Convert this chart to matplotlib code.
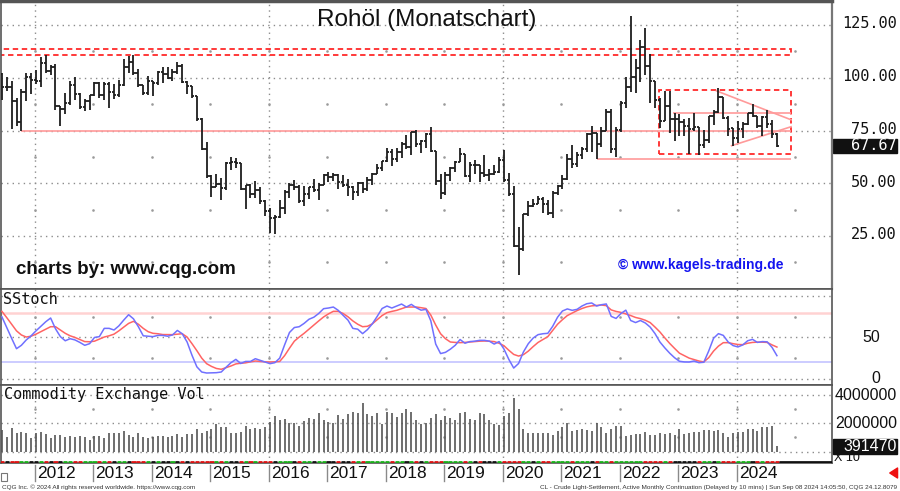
import numpy as np
import pandas as pd
import matplotlib
matplotlib.use('Agg')
import matplotlib.pyplot as plt
from matplotlib.transforms import blended_transform_factory
from matplotlib.patches import Rectangle, FancyArrowPatch
from matplotlib.lines import Line2D

# ---------------- data (monthly bars, Jun 2011 .. Sep 2024) ----------------
months = pd.period_range('2011-06', '2024-09', freq='M')

price_open = [
    102.0, 95.4, 95.7, 88.8, 79.2, 93.2, 100.4,
    98.8, 98.5, 107.1, 103.0, 104.9, 86.5, 85.0, 88.1, 96.5, 92.2, 86.2, 88.9,
    91.8, 97.5, 92.0, 97.2, 93.5, 92.0, 96.6, 105.0, 107.6, 102.3, 96.4, 92.7,
    98.4, 97.5, 102.6, 101.6, 99.7, 102.7, 105.4, 98.2, 96.0, 91.2, 80.5, 66.2,
    53.3, 48.2, 49.8, 47.6, 59.6, 60.3, 59.5, 47.1, 49.2, 45.1, 46.6, 41.7,
    37.0, 33.6, 33.8, 38.3, 45.9, 49.1, 48.3, 41.6, 44.7, 48.2, 46.9, 49.4,
    53.7, 52.8, 54.0, 50.6, 49.3, 48.3, 46.0, 50.2, 47.2, 51.7, 54.4, 57.4,
    60.4, 64.7, 61.6, 64.9, 68.6, 67.0, 74.2, 68.8, 69.8, 73.3, 65.3, 50.9,
    45.4, 53.8, 57.2, 60.1, 63.9, 53.5, 58.5, 58.6, 55.1, 54.1, 54.2, 55.2,
    61.1, 51.6, 44.8, 20.5, 18.8, 35.5, 39.3, 40.3, 42.6, 40.2, 35.8, 45.3,
    48.5, 52.2, 61.5, 59.2, 63.6, 66.3, 73.5, 73.95, 68.5, 75.0, 83.6, 66.2,
    75.2, 88.2, 95.7, 100.3, 104.7, 114.7, 105.8, 98.6, 89.6, 79.5, 86.5, 80.6,
    80.3, 78.9, 77.05, 75.7, 76.8, 68.1, 70.6, 81.8, 83.6, 90.8, 81.0, 76.0,
    71.65, 75.85, 78.3, 83.2, 81.9, 77.0, 81.5, 77.9, 73.55]
price_high = [
    102.4, 100.6, 98.4, 90.5, 94.6, 102.4, 102.4,
    103.7, 110.0, 110.6, 106.0, 106.4, 86.5, 92.9, 98.3, 100.4, 93.0, 89.9, 91.9,
    98.2, 98.2, 97.8, 97.8, 97.1, 99.0, 108.9, 110.4, 110.7, 104.4, 96.4, 100.8,
    98.6, 103.4, 105.2, 104.99, 104.2, 107.7, 106.4, 98.7, 96.1, 91.5, 80.9, 69.4,
    53.7, 54.2, 52.5, 59.9, 62.6, 61.9, 59.7, 49.3, 49.5, 50.9, 48.4, 42.0,
    38.4, 34.8, 41.9, 46.8, 50.2, 51.7, 49.0, 48.75, 48.3, 51.9, 49.9, 54.5,
    55.2, 54.9, 54.6, 53.8, 52.0, 48.6, 50.4, 50.4, 52.9, 54.9, 59.1, 60.5,
    66.7, 66.3, 66.6, 69.6, 72.9, 74.5, 75.3, 70.4, 73.9, 76.9, 65.4, 54.55,
    55.4, 57.8, 60.7, 66.6, 63.9, 59.9, 60.9, 58.8, 63.4, 57.0, 58.7, 62.3,
    65.65, 54.7, 48.7, 29.1, 35.6, 41.6, 42.5, 43.8, 43.4, 41.9, 46.3, 49.4,
    53.9, 63.8, 67.98, 64.8, 67.0, 74.0, 76.98, 74.0, 76.7, 85.4, 84.97, 76.9,
    88.8, 100.5, 129.4, 109.0, 118.0, 123.7, 111.1, 98.7, 90.4, 93.6, 93.7, 83.3,
    82.7, 80.6, 80.9, 83.5, 76.9, 75.1, 82.0, 84.9, 95.0, 90.9, 82.0, 76.2,
    79.3, 79.1, 83.3, 87.7, 81.9, 82.0, 84.5, 80.1, 74.0]
price_low = [
    89.6, 93.6, 75.7, 77.1, 74.95, 89.2, 92.5,
    97.2, 95.4, 102.1, 101.1, 84.6, 77.3, 83.0, 87.0, 89.6, 85.2, 84.1, 84.7,
    91.6, 90.6, 89.3, 85.6, 89.9, 91.1, 95.9, 102.2, 101.3, 95.7, 91.8, 91.7,
    91.2, 96.4, 97.4, 99.2, 98.5, 101.8, 97.6, 92.5, 90.4, 79.4, 65.7, 52.4,
    43.6, 48.0, 42.0, 47.0, 56.5, 57.3, 46.7, 37.75, 43.2, 43.2, 40.0, 34.5,
    26.2, 26.1, 33.4, 35.2, 43.0, 46.7, 40.6, 39.2, 42.5, 46.0, 42.2, 49.4,
    50.7, 51.2, 47.1, 48.2, 43.8, 42.05, 44.0, 45.6, 46.5, 49.1, 54.2, 55.8,
    59.9, 58.1, 60.0, 62.0, 66.4, 63.6, 67.0, 64.4, 66.8, 64.9, 49.4, 42.4,
    44.35, 51.2, 55.3, 60.0, 53.0, 50.6, 54.6, 50.5, 52.8, 51.0, 54.0, 55.1,
    50.6, 44.0, 20.0, 6.5, 18.0, 34.4, 38.7, 40.0, 36.1, 34.9, 33.6, 44.3,
    47.2, 51.6, 57.3, 57.6, 61.6, 64.6, 65.0, 61.7, 67.3, 74.96, 64.4, 62.4,
    74.3, 85.7, 93.5, 92.9, 97.9, 101.5, 88.2, 85.7, 76.3, 79.3, 73.6, 70.1,
    72.5, 72.3, 64.1, 74.9, 63.6, 66.8, 69.0, 77.6, 83.5, 80.6, 72.2, 67.7,
    69.3, 71.4, 77.5, 81.25, 76.0, 72.5, 76.3, 71.5, 67.2]
price_close = [
    95.4, 95.7, 88.8, 79.2, 93.2, 100.4, 98.8,
    98.5, 107.1, 103.0, 104.9, 86.5, 85.0, 88.1, 96.5, 92.2, 86.2, 88.9, 91.8,
    97.5, 92.0, 97.2, 93.5, 92.0, 96.6, 105.0, 107.6, 102.3, 96.4, 92.7, 98.4,
    97.5, 102.6, 101.6, 99.7, 102.7, 105.4, 98.2, 96.0, 91.2, 80.5, 66.2, 53.3,
    48.2, 49.8, 47.6, 59.6, 60.3, 59.5, 47.1, 49.2, 45.1, 46.6, 41.7, 37.0,
    33.6, 33.8, 38.3, 45.9, 49.1, 48.3, 41.6, 44.7, 48.2, 46.9, 49.4, 53.7,
    52.8, 54.0, 50.6, 49.3, 48.3, 46.0, 50.2, 47.2, 51.7, 54.4, 57.4, 60.4,
    64.7, 61.6, 64.9, 68.6, 67.0, 74.2, 68.8, 69.8, 73.3, 65.3, 50.9, 45.4,
    53.8, 57.2, 60.1, 63.9, 53.5, 58.5, 58.6, 55.1, 54.1, 54.2, 55.2, 61.1,
    51.6, 44.8, 20.5, 18.8, 35.5, 39.3, 40.3, 42.6, 40.2, 35.8, 45.3, 48.5,
    52.2, 61.5, 59.2, 63.6, 66.3, 73.5, 73.95, 68.5, 75.0, 83.6, 66.2, 75.2,
    88.2, 95.7, 100.3, 104.7, 114.7, 105.8, 98.6, 89.6, 79.5, 86.5, 80.6, 80.3,
    78.9, 77.05, 75.7, 76.8, 68.1, 70.6, 81.8, 83.6, 90.8, 81.0, 75.96, 71.65,
    75.85, 78.3, 83.2, 81.9, 77.0, 81.5, 77.9, 73.55, 67.67]

stoch_k = [
    75, 62, 49, 36.4, 40.5, 47, 52, 58, 63.5, 69, 73.5, 60.5, 51, 46, 48.5,
    47, 44, 40.5, 42.5, 50, 51, 61, 61, 59, 64, 71, 77.5, 72.5, 63, 52, 51.5,
    51, 52.5, 52.5, 51.5, 53, 58.5, 54.5, 44.5, 28.5, 14.5, 8.2, 7, 7.2, 7.4,
    8.2, 14, 19.5, 23.5, 18.5, 21, 21, 24.3, 22.3, 20.3, 18.3, 19.5, 25,
    41, 56, 62, 63, 67, 72, 74.5, 79, 84.8, 85.6, 86.8, 82.8, 76.8, 71, 61,
    60, 54.6, 59.5, 66.5, 75.5, 85, 88, 85.6, 88, 90.4, 86.8, 90, 86, 83, 84,
    70, 42, 30.5, 32, 35.8, 40.5, 47.5, 43, 45, 45.5, 46.5, 46.5, 45.5, 42,
    45, 36, 23.5, 13, 18.5, 32.5, 42.5, 49.3, 53.4, 54.5, 55,
    63.5, 74.5, 82, 84.5, 82.8, 84, 88, 90.8, 91.7, 88, 89.6, 90.5, 75.5, 73,
    79, 83, 70.5, 68, 70.5, 67.5, 62.5, 54.6, 44.5, 37.4, 31, 25.5, 21.2,
    20.4, 20.3, 21.5, 19.5, 20, 33.5, 49, 54.6, 52.5, 44.5, 40.2, 38.5, 41,
    46, 47.7, 44, 45, 44.7, 38, 28]
stoch_d = [
    81.6, 74, 66, 58, 53, 50.5, 51.5, 54, 57, 60, 63, 63, 59, 55, 52, 50,
    47.5, 45, 44.8, 45.5, 48, 50.5, 52, 54, 58, 62.5, 67, 69.5, 66, 61, 57,
    55, 54.5, 53.5, 53.4, 53.4, 54, 54.5, 50.5, 42.5, 34, 25, 18.3, 15, 12.5,
    11.5, 13.5, 15.5, 18, 18.8, 19.3, 20.5, 21.5, 21, 20.5, 20.3, 20.5, 21,
    28, 37, 45.5, 50.5, 55, 60, 65, 70, 74.8, 78.5, 81.6, 81.6, 79, 75, 70,
    66, 63, 63.5, 66.5, 71.5, 76.5, 80, 81.5, 82.8, 84.8, 86.8, 86.8, 86.8,
    86, 85, 77, 65, 54.5, 48.5, 44.5, 44, 43.7, 44, 44.5, 45, 45.5, 45.7,
    45.5, 45, 43, 40, 34.5, 29.5, 27.5, 29.2, 33.5, 39, 44, 47.5, 51,
    58.5, 66, 71.5, 76.5, 79.5, 82.5, 85, 87, 88.2, 88.7, 89.2, 88.5, 83.3,
    81.5, 80.3, 78.5, 76.5, 74.2, 72.8, 70.8, 68, 62.5, 56.6, 49.5, 42.8,
    36.8, 31, 28, 25, 23.2, 21.5, 20.4, 25.5, 33.5, 39.5, 43.7, 43.7, 42.5,
    41.5, 41.3, 43, 44, 44.3, 44.3, 44, 41, 38.4]

# contracts, in millions
volume_mio = [
    1.53, 1.06, 1.64, 1.34, 1.41, 1.29, 0.94, 1.29, 1.41, 1.24, 0.94, 1.17,
    1.17, 1.06, 1.10, 1.01, 1.10, 1.06, 0.82, 1.10, 1.10, 0.98, 1.29, 1.29,
    1.29, 1.46, 1.17, 1.01, 1.34, 1.01, 0.94, 1.01, 1.10, 1.10, 1.01, 1.10,
    1.22, 1.01, 1.24, 1.24, 1.57, 1.34, 1.48, 1.57, 1.93, 1.72, 1.72, 1.29,
    1.34, 1.41, 1.83, 1.57, 1.64, 1.57, 1.76, 2.12, 2.52, 2.23, 2.28, 2.04,
    2.00, 1.81, 2.19, 2.35, 2.28, 2.70, 2.23, 2.12, 2.00, 2.59, 2.28, 2.66,
    2.78, 2.70, 3.41, 2.66, 2.52, 2.70, 1.95, 2.82, 2.70, 2.42, 2.70, 2.99,
    2.78, 2.23, 1.95, 2.04, 2.40, 2.66, 2.23, 2.52, 2.40,
    2.23, 2.70, 2.78, 2.28, 2.23, 2.70, 2.63, 2.23, 1.93, 1.88, 2.52, 2.70,
    3.76, 2.99, 1.57, 1.34, 1.29, 1.34, 1.34, 1.29, 1.17, 1.48, 1.76, 2.04,
    1.48, 1.53, 1.57, 1.53, 1.48, 2.00, 1.76, 1.34, 1.57, 1.81, 1.81, 1.10,
    1.17, 1.24, 1.24, 1.41, 1.17, 1.17, 1.29, 1.24, 1.34, 1.17, 1.57, 1.22,
    1.34, 1.41, 1.36, 1.53, 1.53, 1.48, 1.53, 1.29, 1.06, 1.34, 1.36, 1.36,
    1.60, 1.57, 1.48, 1.76, 1.76, 1.81, 0.39147]

years = list(range(2012, 2025))
price_levels = [25, 50, 75, 100, 125]

# drawn chart annotations (month index, price)
band_top, band_bottom = 113.6, 110.8
support_hi, support_lo = 74.95, 61.7
box_left, box_right, box_low, box_high = 134.8, 161.9, 64.0, 94.3
box_mid = 83.1
tri_upper = ([146.6, 161.9], [93.8, 80.1])
tri_lower = ([149.7, 161.9], [67.8, 76.8])

for arr in (price_open, price_high, price_low, price_close,
            stoch_k, stoch_d, volume_mio):
    assert len(arr) == len(months), len(arr)

# ---------------- figure ----------------
plt.rcParams['font.family'] = ['Liberation Sans', 'DejaVu Sans']
W, H = 900, 491
fig = plt.figure(figsize=(W / 100, H / 100), dpi=100)
fig.patch.set_facecolor('white')


def fx(px):
    return px / W


def fy(px):
    return 1 - px / H


def panel(top, bottom):
    ax = fig.add_axes([fx(1), fy(bottom), fx(831), (bottom - top) / H])
    ax.set_xlim(-0.18, 170.3)
    ax.set_xticks([])
    ax.set_yticks([])
    for s in ax.spines.values():
        s.set_color('#555555')
        s.set_linewidth(1.2)
    return ax


ax_p = panel(1, 289)
ax_s = panel(289, 385)
ax_v = panel(385, 463)
ax_p.set_ylim(-0.12, 136.4)
ax_s.set_ylim(-7.5, 108.6)
ax_v.set_ylim(-0.806, 4.707)
ax_p.spines['top'].set_linewidth(2.5)
ax_p.spines['right'].set_color('#777777')
ax_p.spines['right'].set_linewidth(1.6)

x = np.arange(len(months))
year_x = [(y - 2011) * 12 - 5 - 0.25 for y in years]
dot_x = year_x + [year_x[-1] + 12]
grid_kw = dict(color='#8c8c8c', lw=1.0, ls=(0, (1, 3)), zorder=1)
dot_kw = dict(ls='none', marker='s', ms=0.8, color='#9a9a9a', zorder=1)

# grid
for lv in price_levels:
    ax_p.axhline(lv, **grid_kw)
for lv in (0, 50, 100):
    ax_s.axhline(lv, **grid_kw)
for lv in (0, 2, 4):
    ax_v.axhline(lv, **grid_kw)
for ax in (ax_p, ax_s, ax_v):
    for xv in year_x[::4]:
        ax.axvline(xv, **grid_kw)
for xv in dot_x:
    ax_p.plot([xv] * 5, [12.5, 37.5, 62.5, 87.5, 112.5], **dot_kw)
    ax_s.plot([xv] * 2, [25, 75], **dot_kw)
    ax_v.plot([xv] * 2, [1, 3], **dot_kw)

# price bars
bar_c = '#1e1e1e'
ax_p.vlines(x, price_low, price_high, color=bar_c, lw=1.3, zorder=3)
ax_p.hlines(price_open, x - 0.45, x, color=bar_c, lw=1.3, zorder=3)
ax_p.hlines(price_close, x, x + 0.45, color=bar_c, lw=1.3, zorder=3)

# annotations
red = '#ff2a2a'
pink = '#ff9a9a'
ax_p.add_patch(Rectangle((-0.5, band_bottom), box_right + 0.5,
                         band_top - band_bottom, fill=False, ec=red,
                         lw=1.3, ls=(0, (3, 2)), zorder=2))
ax_p.add_patch(Rectangle((box_left, box_low), box_right - box_left,
                         box_high - box_low, fill=False, ec=red,
                         lw=1.3, ls=(0, (3, 2)), zorder=2))
ax_p.hlines(support_hi, 4, box_right, color=pink, lw=1.2, zorder=2)
ax_p.hlines(support_lo, 122, box_right, color=pink, lw=1.2, zorder=2)
ax_p.hlines(box_mid, 137.6, box_right, color=pink, lw=1.2, zorder=2)
ax_p.plot(*tri_upper, color=pink, lw=1.2, zorder=2)
ax_p.plot(*tri_lower, color=pink, lw=1.2, zorder=2)

# stochastic
ax_s.axhline(80, color='#ffd2d2', lw=1.8, zorder=1)
ax_s.axhline(20, color='#c4c4ff', lw=1.2, zorder=1)
ax_s.plot(x, stoch_d, color='#ff6464', lw=1.1, zorder=3)
ax_s.plot(x, stoch_k, color='#7070ff', lw=1.1, zorder=3)

# volume
ax_v.vlines(x, 0, volume_mio, color='#555555', lw=1.2, zorder=3)
strip_c = []
for o, c in zip(price_open, price_close):
    strip_c.append('#18b018' if c > o * 1.03 else
                   '#dd1111' if c < o * 0.97 else '#111111')
ax_v.hlines([-0.72] * len(x), x - 0.42, x + 0.42, colors=strip_c, lw=2.0,
            zorder=4)
ax_v.hlines(-0.72, x[-1] + 0.5, 170.3, color='#111111', lw=2.0, zorder=4)

# ---------------- texts ----------------
mono = 'DejaVu Sans Mono'
bp = blended_transform_factory(fig.transFigure, ax_p.transData)
bs = blended_transform_factory(fig.transFigure, ax_s.transData)
bv = blended_transform_factory(fig.transFigure, ax_v.transData)

for lv in price_levels:
    ax_p.text(fx(897), lv + 0.6, f'{lv:.2f}', transform=bp, ha='right',
              va='center', family=mono, fontsize=11, color='#111111')
ax_p.add_patch(Rectangle((fx(833), price_close[-1] - 3.4), fx(64), 6.8,
                         transform=bp, color='#111111', clip_on=False))
ax_p.text(fx(897), price_close[-1], f'{price_close[-1]:.2f}', transform=bp,
          ha='right', va='center', family=mono, fontsize=11, color='white')

for lv in (50, 0):
    ax_s.text(fx(880), lv, str(lv), transform=bs, ha='right', va='center',
              fontsize=11.5, color='#111111')

for lv in (4, 2):
    ax_v.text(fx(897), lv, f'{int(lv * 1e6)}', transform=bv, ha='right',
              va='center', fontsize=11.5, color='#111111')
ax_v.text(fx(834), volume_mio[-1] - 0.86, 'X 10', transform=bv, ha='left',
          va='center', fontsize=9, color='#111111')
ax_v.add_patch(Rectangle((fx(833), volume_mio[-1] - 0.53), fx(64), 1.06,
                         transform=bv, color='#111111', clip_on=False,
                         zorder=5))
ax_v.text(fx(897), volume_mio[-1], f'{int(round(volume_mio[-1] * 1e6))}',
          transform=bv, ha='right', va='center', fontsize=11.5,
          color='white', zorder=6)

fig.text(fx(427), fy(20), 'Rohöl (Monatschart)', ha='center', va='center',
         fontsize=17.5, color='#111111')
fig.text(fx(16), fy(270), 'charts by: www.cqg.com', ha='left', va='center',
         fontsize=13.5, fontweight='bold', color='#111111')
fig.text(fx(618), fy(265), '© www.kagels-trading.de', ha='left',
         va='center', fontsize=10, fontweight='bold', color='#1414f0')
fig.text(fx(3), fy(299), 'SStoch', ha='left', va='center', family=mono,
         fontsize=11, color='#111111')
fig.text(fx(4), fy(395), 'Commodity Exchange Vol', ha='left', va='center',
         family=mono, fontsize=11, color='#111111')

# time axis strip
bx = blended_transform_factory(ax_v.transData, fig.transFigure)
for yr, xv in zip(years, year_x):
    fig.add_artist(Line2D([xv, xv], [fy(465), fy(481)], transform=bx,
                          color='#8a8a8a', lw=1.0))
    fig.text(xv + 0.45, fy(473), str(yr), transform=bx, ha='left',
             va='center', fontsize=12.5, color='#111111')
fig.add_artist(Rectangle((fx(1), fy(481)), fx(6), 8 / H, fill=False,
                         ec='#777777', lw=0.8, transform=fig.transFigure))
fig.add_artist(FancyArrowPatch((fx(898), fy(473)), (fx(887), fy(473)),
                               transform=fig.transFigure,
                               arrowstyle='simple,head_width=0.9,head_length=0.7,tail_width=0.35',
                               mutation_scale=8, color='#ee1111'))

fig.text(fx(2), fy(487), 'CQG Inc. © 2024 All rights reserved worldwide. '
         'https://www.cqg.com', ha='left', va='center', fontsize=4.6,
         color='#333333')
fig.text(fx(897), fy(487), 'CL - Crude Light-Settlement, Active Monthly '
         'Continuation (Delayed by 10 mins) | Sun Sep 08 2024 14:05:50, '
         'CQG 24.12.8079', ha='right', va='center', fontsize=4.6,
         color='#333333')

fig.savefig('out.png', dpi=100, facecolor='white')
